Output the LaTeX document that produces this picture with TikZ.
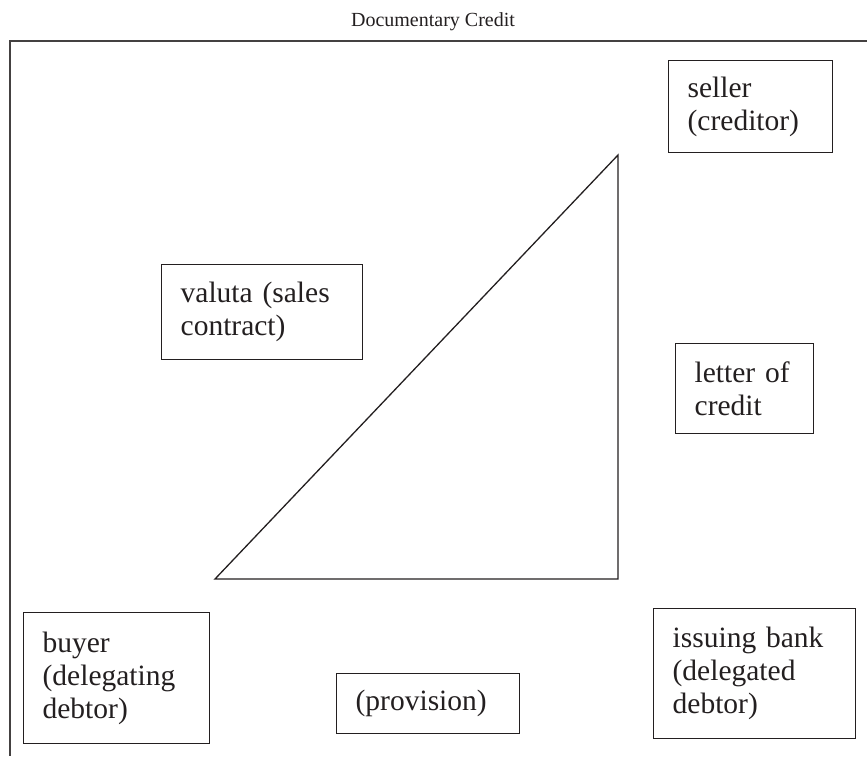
\documentclass[tikz,border=0pt]{standalone}
\usepackage{fontspec}
\setmainfont{Liberation Serif}
\definecolor{inkc}{HTML}{231F20}
\begin{document}
\begin{tikzpicture}[x=1pt,y=-1pt,
  frameline/.style={line width=1.4pt,draw=inkc!85},
  boxnode/.style={draw=inkc,line width=1.3pt,anchor=north west,align=left,text=inkc,
    inner xsep=19pt,inner ysep=0pt,font=\fontsize{29.5}{33}\selectfont},
  triline/.style={line width=1.3pt,draw=inkc,line join=miter}]
\useasboundingbox (0,0) rectangle (867,756);
\node[font=\fontsize{20}{23}\selectfont,text=inkc] (title) at (433,22) {Documentary Credit};
\coordinate (ftl) at (10,41);
\coordinate (ftr) at (867,41);
\coordinate (fbl) at (10,756);
\draw[frameline] (ftr) -- (ftl) -- (fbl);
% boxes
\node[boxnode,text width=126pt,minimum height=92pt] (seller) at (668,60) {seller\\(creditor)};
\node[boxnode,text width=163pt,minimum height=95pt] (valuta) at (161,264) {valuta (sales\\contract)};
\node[boxnode,text width=100pt,minimum height=90pt] (loc) at (675,343) {letter of\\credit};
\node[boxnode,text width=148pt,minimum height=131pt] (buyer) at (23,612) {buyer\\(delegating\\debtor)};
\node[boxnode,text width=145pt,minimum height=60pt] (prov) at (336,673) {(provision)};
\node[boxnode,text width=164pt,minimum height=130pt] (bank) at (653,608) {issuing bank\\(delegated\\debtor)};
% triangle
\coordinate (ta) at (215,579);
\coordinate (tb) at (618,155);
\coordinate (tc) at (618,579);
\draw[triline] (ta) -- (tb) -- (tc) -- cycle;
\end{tikzpicture}
\end{document}
